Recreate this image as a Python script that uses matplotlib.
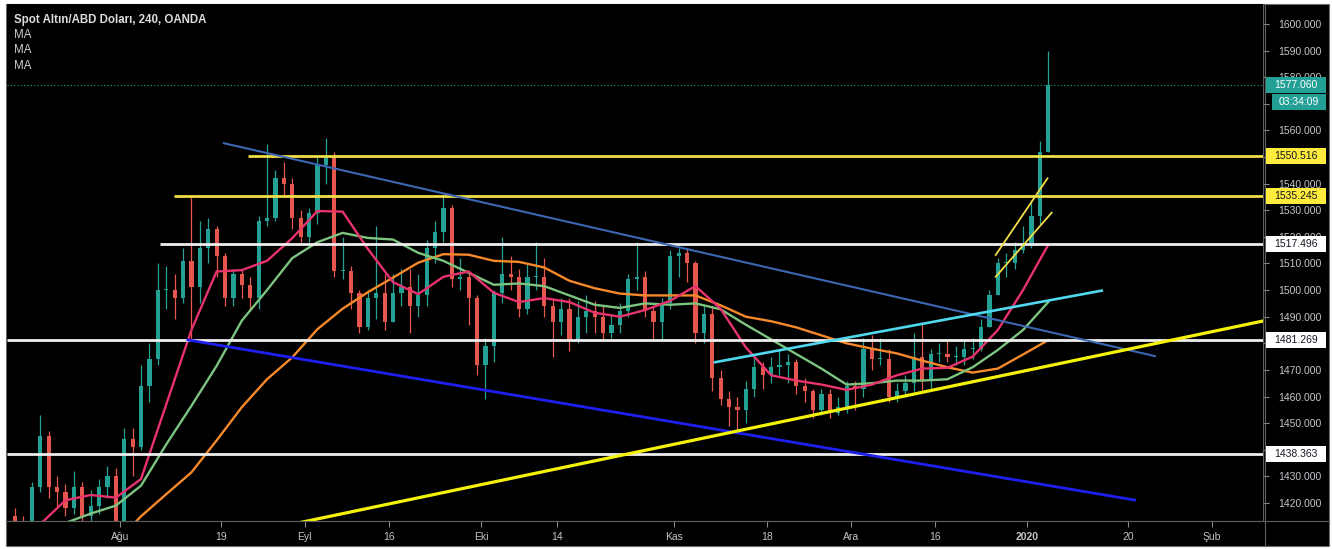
import numpy as np
import pandas as pd
import matplotlib
matplotlib.use("Agg")
import matplotlib.pyplot as plt
from matplotlib.patches import Rectangle
from matplotlib.lines import Line2D
from matplotlib.transforms import blended_transform_factory

plt.rcParams['font.family'] = ['Liberation Sans', 'DejaVu Sans']

# trading calendar (daily bars)
first_day = "2019-07-15"
last_day = "2020-01-06"
holidays = ["2019-12-25", "2020-01-01"]

first_open = 1415
close = [1413, 1406, 1426, 1445, 1426, 1424, 1418, 1426, 1415, 1419, 1426, 1430, 1413,
         1444, 1441, 1464, 1474, 1500, 1500, 1497, 1511, 1501, 1516, 1523, 1513, 1497, 1506, 1502, 1497, 1526, 1527, 1542, 1540, 1527, 1520,
         1529, 1547, 1550, 1507, 1507, 1499, 1486, 1497, 1499, 1488, 1499, 1501, 1494, 1498, 1516, 1522, 1531, 1504, 1505, 1497, 1472,
         1479, 1499, 1506, 1505, 1493, 1505, 1505, 1494, 1488, 1493, 1481, 1490, 1492, 1490, 1484, 1487, 1492, 1504, 1505, 1492, 1488, 1495, 1513,
         1514, 1510, 1484, 1491, 1467, 1459, 1456, 1455, 1463, 1471, 1468, 1471, 1472, 1473, 1464, 1462, 1455, 1461, 1454, 1456, 1464,
         1463, 1478, 1474, 1474, 1460, 1462, 1465, 1475, 1466, 1476, 1476, 1475, 1475, 1478, 1478, 1486, 1498, 1510, 1510, 1515, 1517,
         1528, 1552, 1577]
high = [1418, 1415, 1428, 1453, 1447, 1430, 1427, 1432, 1428, 1425, 1429, 1434, 1433,
        1448, 1448, 1472, 1480, 1510, 1509, 1506, 1516, 1535, 1526, 1527, 1524, 1514, 1508, 1508, 1505, 1528, 1555, 1545, 1548, 1542, 1530,
        1531, 1550, 1557, 1552, 1520, 1509, 1500, 1500, 1524, 1506, 1506, 1508, 1508, 1506, 1519, 1526, 1536, 1532, 1512, 1507, 1498,
        1482, 1500, 1520, 1513, 1508, 1510, 1518, 1512, 1497, 1497, 1497, 1496, 1498, 1496, 1494, 1491, 1495, 1506, 1518, 1507, 1494, 1497, 1515,
        1516, 1516, 1511, 1494, 1494, 1470, 1462, 1460, 1466, 1475, 1473, 1475, 1478, 1476, 1474, 1467, 1463, 1463, 1463, 1460, 1466,
        1466, 1482, 1483, 1482, 1478, 1465, 1468, 1484, 1488, 1478, 1480, 1481, 1479, 1481, 1482, 1489, 1500, 1512, 1514, 1518, 1524,
        1534, 1556, 1590]
low = [1410, 1401, 1405, 1424, 1422, 1418, 1415, 1416, 1413, 1413, 1416, 1422, 1410,
       1412, 1430, 1440, 1458, 1472, 1493, 1489, 1495, 1481, 1495, 1510, 1505, 1494, 1494, 1497, 1492, 1493, 1524, 1526, 1535, 1523, 1518,
       1518, 1525, 1540, 1505, 1504, 1493, 1484, 1485, 1489, 1485, 1488, 1494, 1484, 1490, 1494, 1510, 1518, 1501, 1500, 1487, 1468,
       1459, 1473, 1495, 1500, 1490, 1491, 1500, 1490, 1475, 1483, 1477, 1480, 1484, 1484, 1481, 1482, 1484, 1490, 1500, 1490, 1481, 1481, 1493,
       1505, 1503, 1480, 1480, 1462, 1457, 1449, 1446, 1450, 1460, 1463, 1465, 1468, 1465, 1461, 1458, 1452, 1453, 1452, 1453, 1454,
       1455, 1460, 1470, 1472, 1458, 1458, 1460, 1462, 1462, 1463, 1473, 1473, 1472, 1472, 1474, 1477, 1486, 1498, 1505, 1508, 1514,
       1516, 1525, 1552]

# moving averages, read every third bar
ma_step = 3
ma_fast = [np.nan, 1412, 1421, 1423, 1422, 1429, 1457, 1485, 1507, 1507.5, 1511, 1519.5, 1529.7, 1529.5,
           1515.5, 1503, 1498.5, 1505, 1507, 1499, 1495.5, 1497, 1495.5, 1491.5, 1490, 1492.5, 1496, 1501.5,
           1493, 1478.5, 1468, 1466, 1464.5, 1462.5, 1464.5, 1468, 1470.5, 1470.8, 1475, 1485, 1500, 1517]
ma_mid = [np.nan, 1408.5, 1412.5, 1416, 1419, 1426.5, 1442, 1456.5, 1471.5, 1488.5, 1500, 1512, 1518, 1521.5,
          1519.6, 1519, 1514, 1511, 1506.5, 1502, 1502.5, 1501.5, 1498, 1494.5, 1493.3, 1495, 1494.5, 1495,
          1492.8, 1487, 1481.5, 1476, 1470.5, 1464.5, 1465, 1466, 1466, 1466.5, 1471, 1477.5, 1485, 1495.5]
ma_slow = [np.nan, np.nan, np.nan, np.nan, 1405, 1415, 1423.3, 1431.5, 1443.5, 1456, 1466.5, 1474.7, 1485.3, 1493,
           1499.2, 1504.7, 1510.3, 1513.5, 1513.3, 1511, 1510.6, 1508.5, 1503.5, 1500.7, 1498.7, 1498, 1498, 1498,
           1494.3, 1490, 1488.3, 1486, 1483, 1480, 1478, 1476.2, 1473.5, 1471, 1469, 1470.5, 1475.8, 1481.2]

# horizontal levels
levels = [1550.516, 1535.245, 1517.496, 1481.269, 1438.363]
level_start = ["2019-08-22 06:00", "2019-08-09 10:00", "2019-08-07 18:00", None, None]
level_colors = ["#f2de47", "#f2de47", "#eeeeee", "#eeeeee", "#eeeeee"]
level_box = ["#ffeb3b", "#ffeb3b", "#ffffff", "#ffffff", "#ffffff"]

# trend lines
trend_t1 = ["2019-08-19 09:00", "2019-08-13 02:00", "2019-08-29 00:00", "2019-11-07 20:00", "2019-12-26 06:00", "2019-12-26 06:00"]
trend_p1 = [1555.2, 1481.27, 1411.7, 1472.9, 1513.2, 1505.0]
trend_t2 = ["2020-01-23 05:00", "2020-01-20 19:00", "2020-02-12 00:00", "2020-01-14 21:00", "2020-01-06 10:00", "2020-01-06 22:00"]
trend_p2 = [1475.2, 1421.1, 1489.0, 1499.8, 1542.0, 1529.1]
trend_colors = ["#3b67b3", "#1e1ef0", "#f5f20a", "#4fd8ee", "#f2de47", "#f2de47"]
trend_widths = [1.5, 2.0, 2.3, 1.9, 1.3, 1.3]

last_price = 1577.060
countdown = "03:34:09"

tick_dates = ["2019-08-01", "2019-08-19", "2019-09-02", "2019-09-16", "2019-10-01", "2019-10-14", "2019-11-01",
              "2019-11-18", "2019-12-02", "2019-12-16", "2020-01-02", "2020-01-20", "2020-02-03"]
tick_labels = ["Ağu", "19", "Eyl", "16", "Eki", "14", "Kas", "18", "Ara", "16", "2020", "20", "Şub"]
price_ticks = list(range(1420, 1601, 10))
hidden_ticks = [1570, 1550, 1480, 1440]  # covered by the price boxes

UP = "#23a194"
DOWN = "#e5564f"
GRID_TXT = "#c3c6cc"

cal = pd.bdate_range(first_day, "2020-02-28")
cal = cal[~cal.isin(pd.to_datetime(holidays))]


def tpos(ts):
    ts = pd.Timestamp(ts)
    day = ts.normalize()
    return cal.get_loc(day) + (ts - day) / pd.Timedelta(hours=24)


W, H = 1332, 549
fig = plt.figure(figsize=(W / 100, H / 100), dpi=100)
fig.patch.set_facecolor("white")


def fx(px):
    return px / W


def fy(py):
    return 1 - py / H


fig.add_artist(Rectangle((fx(6), fy(546)), fx(1329) - fx(6), fy(4) - fy(546), transform=fig.transFigure,
                         facecolor="black", edgecolor="#6b6b6b", lw=0.8, zorder=-5))

ax = fig.add_axes([fx(7), fy(521), fx(1263) - fx(7), fy(4) - fy(521)])
ax.set_facecolor("black")

# pixel layout of the original: Aug 1 at 120px, 8.4px per trading day
aug1 = cal.get_loc(pd.Timestamp("2019-08-01"))
ax.set_xlim(aug1 + (7 - 120) / 8.4, aug1 + (1263 - 120) / 8.4)
ax.set_ylim(1600 - (521 - 24) / 2.661, 1600 + (24 - 4) / 2.661)

# candles
close_a = np.array(close, float)
opens = np.r_[first_open, close_a[:-1]]
bars = np.arange(len(close_a)) + 0.5
cols = np.where(close_a >= opens, UP, DOWN)
ax.vlines(bars, low, high, colors=cols, lw=0.9, zorder=2)
ax.bar(bars, np.maximum(np.abs(close_a - opens), 0.4), bottom=np.minimum(close_a, opens), width=0.5,
       color=cols, linewidth=0, zorder=2)

# moving averages
ma_x = bars[::ma_step]
ax.plot(ma_x, ma_slow, color="#f7892b", lw=1.7, zorder=3)
ax.plot(ma_x, ma_mid, color="#7cc47f", lw=1.7, zorder=3)
ax.plot(ma_x, ma_fast, color="#e8336d", lw=1.7, zorder=3)

# drawings
xl, xr = ax.get_xlim()
for p, s, c in zip(levels, level_start, level_colors):
    x0 = xl if s is None else tpos(s)
    ax.plot([x0, xr], [p, p], color=c, lw=2.0, zorder=4, solid_capstyle="butt")

for t1, p1, t2, p2, c, lw in zip(trend_t1, trend_p1, trend_t2, trend_p2, trend_colors, trend_widths):
    ax.plot([tpos(t1), tpos(t2)], [p1, p2], color=c, lw=lw, zorder=4)

ax.axhline(last_price, color=UP, lw=0.8, ls=(0, (1, 2)), zorder=4)

# axes styling
for side in ["top", "left"]:
    ax.spines[side].set_visible(False)
ax.spines["bottom"].set_color("#5e5e5e")
ax.spines["right"].set_color("#5e5e5e")
ax.yaxis.tick_right()
ax.set_yticks(price_ticks)
ax.set_yticklabels(["" if p in hidden_ticks else f"{p:.3f}" for p in price_ticks])
ax.tick_params(axis="y", colors="#8a8a8a", labelcolor=GRID_TXT, labelsize=7.5, length=4, pad=7)
ax.set_xticks([tpos(d) for d in tick_dates])
ax.set_xticklabels(tick_labels)
ax.tick_params(axis="x", colors="#8a8a8a", labelcolor=GRID_TXT, labelsize=7.5, length=4, pad=4)
for lab in ax.get_xticklabels():
    if lab.get_text() == "2020":
        lab.set_fontweight("bold")

fig.add_artist(Line2D([fx(1265), fx(1265)], [fy(4), fy(546)], transform=fig.transFigure, color="#5e5e5e", lw=0.8))
fig.add_artist(Line2D([fx(6), fx(1329)], [fy(521), fy(521)], transform=fig.transFigure, color="#5e5e5e", lw=0.8))

# price boxes on the scale
tr = blended_transform_factory(fig.transFigure, ax.transData)
half = 8 / 2.661


def price_box(p, text, face, txtcol, x0=1266, x1=1326, dy=0):
    fig.add_artist(Rectangle((fx(x0), p - half - dy), fx(x1) - fx(x0), 2 * half, transform=tr,
                             facecolor=face, edgecolor="none", zorder=6, clip_on=False))
    fig.text(fx((x0 + x1) / 2), p - dy, text, transform=tr, color=txtcol, fontsize=7.5,
             ha="center", va="center", zorder=7)


for p, face in zip(levels, level_box):
    price_box(p, f"{p:.3f}", face, "#131722")
price_box(last_price, f"{last_price:.3f}", "#22a095", "white")
price_box(last_price, countdown, "#22a095", "white", x0=1272, dy=2 * half + 0.4)

# legend text
fig.text(fx(14), fy(20), "Spot Altın/ABD Doları, 240, OANDA", color="#dcdcdc", fontsize=8.3,
         fontweight="bold", va="center")
for py in [35, 50, 66]:
    fig.text(fx(14), fy(py), "MA", color="#cfcfcf", fontsize=8.3, va="center")

fig.savefig("out.png", dpi=100, facecolor=fig.get_facecolor())
